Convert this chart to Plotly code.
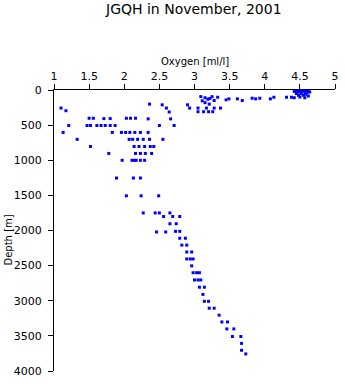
import plotly.graph_objects as go

# Depth [m] and oxygen [ml/l] samples
depth_m = [
    0, 0, 5, 5, 5, 10, 10, 10, 20, 20, 20, 28, 30, 30, 40, 50, 50, 60, 75, 75, 85, 100, 110, 110,
    103, 103, 103, 126, 117, 126, 117, 150, 126, 126, 140, 103, 150, 201, 131, 154, 94, 110, 120, 95,
    211, 257, 257, 257, 257, 257, 309, 309, 309, 309, 180,
    257, 295, 201, 211, 257, 313,
    402, 402, 407, 407, 402, 402, 402, 411, 411,
    505, 505, 505, 505, 505, 505, 505, 505, 505, 505,
    604, 604, 604, 604, 604, 604, 604, 604,
    702, 702, 702, 702, 702, 702, 702,
    804, 804, 804, 804, 804, 804,
    903, 903, 903, 903, 903,
    1001, 1001, 1001, 1001, 1001, 1001,
    1253, 1253, 1253,
    1506, 1506, 1506,
    1750, 1750, 1750, 1750,
    1801, 1801, 1801,
    1904, 1904,
    2021, 2021, 2012, 2012,
    2110, 2110,
    2208, 2208,
    2306, 2306,
    2405, 2405, 2405,
    2503,
    2601, 2601, 2601,
    2704, 2704, 2704,
    2807, 2807,
    2910,
    3008, 3008,
    3106, 3106,
    3205,
    3302, 3302,
    3401, 3401,
    3509, 3509,
    3607,
    3705,
    3757,
]

oxygen_mll = [
    4.50, 4.55, 4.45, 4.52, 4.58, 4.48, 4.55, 4.62, 4.42, 4.50, 4.57, 4.64, 4.47, 4.53, 4.60, 4.45, 4.52, 4.58, 4.48, 4.55, 4.62, 4.50, 4.57, 4.42,
    4.38, 4.31, 4.13, 4.08, 3.93, 3.87, 3.82, 3.68, 3.61, 3.49, 3.45, 3.33, 3.28, 3.21, 3.19, 3.11, 3.09, 3.15, 3.22, 3.25,
    2.90, 2.93, 3.05, 3.17, 3.28, 3.37, 3.05, 3.13, 3.20, 3.26, 3.15,
    1.10, 1.17, 2.36, 2.54, 2.60, 2.64,
    1.50, 1.56, 1.71, 1.80, 2.03, 2.09, 2.16, 2.34, 2.66,
    1.21, 1.47, 1.52, 1.61, 1.67, 1.73, 1.80, 1.87, 2.50, 2.71,
    1.13, 1.83, 1.96, 2.02, 2.08, 2.15, 2.23, 2.34,
    1.33, 2.07, 2.12, 2.19, 2.27, 2.36, 2.55,
    1.52, 2.14, 2.21, 2.29, 2.37, 2.42,
    1.78, 2.16, 2.23, 2.30, 2.39,
    1.97, 2.11, 2.14, 2.17, 2.23, 2.29,
    1.89, 2.13, 2.23,
    2.03, 2.24, 2.49,
    2.27, 2.44, 2.50, 2.65,
    2.56, 2.69, 2.79,
    2.65, 2.74,
    2.46, 2.59, 2.73, 2.79,
    2.79, 2.87,
    2.82, 2.89,
    2.89, 2.96,
    2.89, 2.94, 2.98,
    2.96,
    2.98, 3.03, 3.07,
    3.00, 3.05, 3.09,
    3.07, 3.14,
    3.12,
    3.14, 3.20,
    3.21, 3.28,
    3.35,
    3.39, 3.47,
    3.46, 3.56,
    3.54, 3.66,
    3.67,
    3.67,
    3.73,
]

x_ticks = [1, 1.5, 2, 2.5, 3, 3.5, 4, 4.5, 5]
x_tick_labels = ["1", "1.5", "2", "2.5", "3", "3.5", "4", "4.5", "5"]
y_ticks = [0, 500, 1000, 1500, 2000, 2500, 3000, 3500, 4000]

FONT = "DejaVu Sans"

fig = go.Figure(
    go.Scatter(
        x=oxygen_mll,
        y=depth_m,
        mode="markers",
        marker=dict(symbol="square", size=3, color="#0000ff", line=dict(width=0)),
        hoverinfo="x+y",
    )
)

axis_common = dict(
    showline=True,
    linecolor="black",
    linewidth=1,
    ticks="outside",
    ticklen=5,
    tickwidth=1,
    tickcolor="black",
    showgrid=False,
    zeroline=False,
    tickfont=dict(family=FONT, size=11, color="black"),
)

fig.update_xaxes(
    side="top",
    range=[1, 5],
    tickvals=x_ticks,
    ticktext=x_tick_labels,
    **axis_common,
)
fig.update_yaxes(
    range=[4000, 0],
    tickvals=y_ticks,
    ticklabelstandoff=4,
    **axis_common,
)

fig.update_layout(
    width=345,
    height=384,
    margin=dict(l=54, r=6, t=90, b=9, pad=0),
    paper_bgcolor="white",
    plot_bgcolor="white",
    showlegend=False,
    annotations=[
        dict(text="JGQH in November, 2001", xref="paper", yref="paper",
             x=0.498, y=(375 - 8) / 285, xanchor="center", yanchor="middle",
             showarrow=False, font=dict(family=FONT, size=14, color="black")),
        dict(text="Oxygen [ml/l]", xref="paper", yref="paper",
             x=0.502, y=(375 - 61) / 285, xanchor="center", yanchor="middle",
             showarrow=False, font=dict(family=FONT, size=10, color="black")),
        dict(text="Depth [m]", xref="paper", yref="paper",
             x=(8 - 54) / 285, y=(375 - 242) / 285, xanchor="center", yanchor="middle",
             textangle=-90, showarrow=False, font=dict(family=FONT, size=10, color="black")),
    ],
)

fig.write_html("out.html")
